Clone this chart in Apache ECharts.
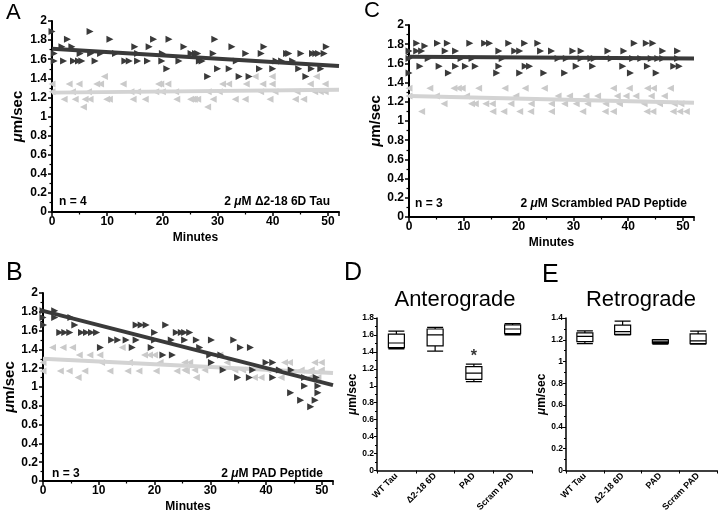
<!DOCTYPE html>
<html><head><meta charset="utf-8">
<script src="https://cdn.jsdelivr.net/npm/echarts@6.0.0/dist/echarts.min.js"></script>
<style>html,body{margin:0;padding:0;background:#fff}#c{width:720px;height:514px}</style>
</head><body><div id="c"></div>
<script>
// ---------- DATA ----------
const minutesTicks = [0, 10, 20, 30, 40, 50];
// Panel A: 2 uM Δ2-18 6D Tau (n = 4)
const A_antero = [[0,1.89],[0.4,1.66],[0.4,1.58],[1.8,1.73],[2.1,1.58],[2.8,1.81],[3.6,1.73],[3.9,1.58],[4.8,1.58],[5.1,1.66],[5.4,1.58],[6.9,1.89],[7.0,1.66],[7.8,1.58],[8.8,1.66],[10.5,1.81],[11.5,1.66],[13.2,1.58],[14.0,1.58],[15.0,1.73],[15.5,1.66],[15.5,1.58],[17.3,1.58],[17.6,1.73],[18.4,1.81],[19.9,1.58],[20.0,1.66],[20.8,1.50],[21.2,1.81],[23.0,1.58],[23.9,1.73],[25.2,1.66],[26.0,1.66],[26.4,1.66],[26.7,1.58],[27.2,1.58],[28.2,1.42],[29.2,1.66],[29.5,1.81],[30.0,1.50],[32.1,1.50],[32.6,1.73],[33.4,1.58],[33.9,1.42],[35.1,1.66],[35.7,1.42],[37.6,1.50],[37.9,1.66],[38.4,1.73],[40.0,1.50],[40.6,1.58],[41.6,1.58],[42.5,1.66],[42.9,1.66],[43.6,1.58],[44.7,1.50],[45.1,1.66],[46.0,1.42],[47.0,1.50],[47.2,1.66],[47.8,1.66],[48.3,1.66],[48.7,1.50],[49.3,1.66],[49.7,1.73]];
const A_retro = [[0,1.34],[0,1.26],[2.2,1.18],[3.1,1.34],[3.7,1.26],[4.2,1.18],[4.9,1.34],[5.7,1.10],[6.0,1.18],[6.6,1.26],[6.9,1.18],[8.1,1.34],[8.8,1.34],[9.5,1.42],[9.9,1.18],[10.4,1.18],[12.9,1.34],[14.3,1.26],[14.7,1.18],[15.5,1.26],[16.9,1.18],[18.8,1.26],[19.3,1.34],[19.7,1.34],[20.0,1.26],[21.0,1.34],[22.4,1.26],[22.6,1.18],[25.1,1.18],[25.5,1.18],[25.8,1.18],[26.4,1.18],[28.2,1.10],[28.3,1.26],[29.2,1.18],[30.3,1.26],[30.9,1.34],[32.0,1.34],[33.2,1.18],[35.0,1.18],[35.2,1.34],[36.8,1.42],[37.8,1.26],[38.2,1.34],[39.5,1.18],[39.9,1.34],[39.9,1.42],[40.4,1.26],[44.1,1.18],[44.4,1.26],[45.6,1.18],[46.8,1.34],[47.6,1.26],[47.9,1.42],[48.6,1.26],[49.5,1.34],[49.5,1.26]];
const A_anteroFit = [[0,1.71],[52,1.53]];
const A_retroFit = [[0,1.25],[52,1.28]];

// Panel B: 2 uM PAD Peptide (n = 3)
const B_antero = [[0,1.81],[0,1.74],[0.1,1.66],[2.1,1.81],[2.1,1.74],[3.0,1.58],[3.9,1.58],[4.8,1.58],[5.0,1.74],[5.7,1.66],[6.9,1.58],[7.8,1.58],[8.7,1.58],[9.6,1.58],[10.3,1.42],[12.3,1.50],[13.4,1.50],[14.9,1.50],[16.0,1.42],[16.7,1.66],[16.7,1.50],[17.6,1.66],[18.5,1.66],[19.4,1.42],[20.0,1.58],[20.0,1.50],[21.5,1.34],[22.0,1.66],[23.0,1.50],[23.2,1.34],[23.9,1.58],[24.8,1.58],[25.4,1.58],[25.4,1.50],[26.3,1.58],[27.5,1.50],[28.1,1.42],[29.9,1.34],[30.2,1.50],[30.2,1.26],[31.9,1.34],[32.3,1.18],[34.2,1.50],[34.9,1.10],[35.4,1.42],[37.0,1.10],[37.2,1.42],[37.6,1.18],[40.0,1.26],[41.2,1.26],[41.2,1.10],[42.4,1.18],[44.4,0.94],[44.5,1.18],[46.2,0.86],[46.9,1.10],[46.9,1.01],[48.0,0.79],[48.8,0.86],[49.0,1.10],[49.3,1.01],[49.3,0.94]];
const B_retro = [[0,1.26],[0,1.17],[1.7,1.42],[3.1,1.17],[3.6,1.42],[4.7,1.17],[5.3,1.42],[6.3,1.10],[6.5,1.34],[7.5,1.17],[8.4,1.34],[10.2,1.34],[10.5,1.26],[12.0,1.17],[14.2,1.42],[15.2,1.17],[15.5,1.26],[17.2,1.17],[18.2,1.34],[19.1,1.34],[20.0,1.34],[20.3,1.17],[21.0,1.26],[24.0,1.17],[25.4,1.26],[25.4,1.18],[25.7,1.17],[26.3,1.26],[27.2,1.18],[27.5,1.10],[29.0,1.18],[31.7,1.34],[33.0,1.26],[34.4,1.18],[35.8,1.18],[37.9,1.10],[39.1,1.10],[40.3,1.18],[41.5,1.18],[42.7,1.10],[43.3,1.26],[44.2,1.26],[46.3,1.18],[47.8,1.10],[48.1,1.18],[48.7,1.26],[49.3,1.10],[49.9,1.26],[49.9,1.18]];
const B_anteroFit = [[0,1.81],[52,1.02]];
const B_retroFit = [[0,1.30],[52,1.15]];

// Panel C: 2 uM Scrambled PAD Peptide (n = 3)
const C_antero = [[0,1.73],[0,1.65],[0,1.50],[1.4,1.81],[1.4,1.73],[2.0,1.57],[2.3,1.73],[2.9,1.78],[3.5,1.65],[5.2,1.81],[5.5,1.57],[6.6,1.73],[7.0,1.81],[7.2,1.50],[8.5,1.73],[8.5,1.57],[9.5,1.65],[10.3,1.57],[11.1,1.81],[11.5,1.65],[12.1,1.57],[13.8,1.81],[14.7,1.81],[16.0,1.50],[16.4,1.73],[16.4,1.57],[17.0,1.65],[18.2,1.81],[19.3,1.73],[20.2,1.73],[20.2,1.50],[21.1,1.81],[21.2,1.57],[22.0,1.57],[23.5,1.81],[24.0,1.73],[24.6,1.50],[26.0,1.73],[27.2,1.65],[28.4,1.50],[28.7,1.65],[29.9,1.73],[30.5,1.57],[31.4,1.73],[31.4,1.65],[33.2,1.65],[33.5,1.57],[33.8,1.65],[36.3,1.73],[36.9,1.65],[39.0,1.57],[39.2,1.73],[40.4,1.50],[40.8,1.65],[41.1,1.81],[42.3,1.65],[43.3,1.81],[43.5,1.57],[44.2,1.65],[44.5,1.81],[45.1,1.50],[45.4,1.65],[46.3,1.73],[46.3,1.65],[48.3,1.57],[49.0,1.73],[49.0,1.65],[49.3,1.57]];
const C_retro = [[0,1.34],[0,1.26],[2.3,1.10],[3.8,1.34],[5.0,1.26],[6.4,1.18],[8.2,1.34],[9.0,1.34],[9.7,1.34],[10.5,1.26],[11.4,1.18],[12.1,1.18],[12.7,1.34],[14.0,1.18],[15.2,1.18],[15.3,1.10],[17.3,1.10],[17.5,1.34],[18.6,1.18],[19.5,1.26],[20.2,1.10],[21.2,1.34],[22.2,1.10],[22.3,1.18],[24.7,1.34],[26.0,1.18],[26.0,1.10],[27.2,1.26],[28.4,1.18],[29.3,1.26],[30.5,1.18],[31.7,1.10],[32.3,1.26],[32.6,1.18],[34.4,1.26],[35.8,1.10],[35.9,1.18],[37.3,1.34],[37.3,1.10],[38.0,1.26],[38.4,1.18],[39.6,1.26],[40.2,1.34],[41.4,1.26],[42.9,1.18],[43.4,1.10],[43.5,1.34],[44.2,1.26],[44.5,1.10],[44.6,1.34],[45.7,1.18],[46.6,1.26],[47.7,1.34],[48.2,1.10],[48.4,1.18],[49.4,1.10],[49.6,1.18],[50.6,1.10]];
const C_anteroFit = [[0,1.67],[52,1.65]];
const C_retroFit = [[0,1.26],[52,1.19]];

// Panels D / E: box plots  [min, Q1, median, Q3, max]
const boxCategories = ['WT Tau', 'Δ2-18 6D', 'PAD', 'Scram PAD'];
const D_antero = [[1.435,1.45,1.505,1.61,1.645],[1.41,1.47,1.60,1.67,1.69],[1.05,1.075,1.15,1.225,1.255],[1.60,1.615,1.67,1.72,1.735]];
const D_star = [['PAD', 1.34]];
const E_retro = [[1.165,1.183,1.232,1.263,1.281],[1.245,1.25,1.275,1.335,1.372],[1.16,1.17,1.18,1.2,1.202],[1.16,1.165,1.19,1.255,1.28]];

// ---------- STYLE ----------
const FONT = '"Liberation Sans", Arial, Helvetica, sans-serif';
const DARK = '#3a3a3a', LIGHT = '#cacaca', LIGHTLINE = '#d3d3d3';

function scatterX(gi) {
  return {
    type: 'value', gridIndex: gi, min: 0, max: 52, interval: 10,
    name: 'Minutes', nameLocation: 'middle', nameGap: 20,
    nameTextStyle: {fontFamily: FONT, fontWeight: 'bold', fontSize: 12, color: '#000'},
    axisLine: {show: true, onZero: false, lineStyle: {color: '#000', width: 2}},
    axisTick: {show: true, length: 4, lineStyle: {color: '#000', width: 1.5}},
    minorTick: {show: true, splitNumber: 2, length: 2.5, lineStyle: {color: '#000', width: 1.2}},
    axisLabel: {fontFamily: FONT, fontWeight: 'bold', fontSize: 12, color: '#000', margin: 4, showMaxLabel: false},
    splitLine: {show: false}
  };
}
function scatterY(gi, gap) {
  return {
    type: 'value', gridIndex: gi, min: 0, max: 2, interval: 0.2,
    name: '{i|μ}m/sec', nameLocation: 'middle', nameGap: gap,
    nameTextStyle: {fontFamily: FONT, fontWeight: 'bold', fontSize: 15, color: '#000',
      rich: {i: {fontFamily: FONT, fontWeight: 'bold', fontStyle: 'italic', fontSize: 15, color: '#000'}}},
    axisLine: {show: true, onZero: false, lineStyle: {color: '#000', width: 2}},
    axisTick: {show: true, length: 4, lineStyle: {color: '#000', width: 1.5}},
    minorTick: {show: true, splitNumber: 2, length: 2.5, lineStyle: {color: '#000', width: 1.2}},
    axisLabel: {fontFamily: FONT, fontWeight: 'bold', fontSize: 12, color: '#000', margin: 5},
    splitLine: {show: false}
  };
}
function boxX(gi) {
  return {
    type: 'category', gridIndex: gi, data: boxCategories,
    axisLine: {show: true, lineStyle: {color: '#000', width: 1.5}},
    axisTick: {show: true, length: 3, lineStyle: {color: '#000', width: 1}},
    axisLabel: {fontFamily: FONT, fontWeight: 'bold', fontSize: 9, color: '#000', rotate: 45, interval: 0, margin: 4},
    splitLine: {show: false}
  };
}
function boxY(gi, max) {
  return {
    type: 'value', gridIndex: gi, min: 0, max: max, interval: 0.2,
    name: '{i|μ}m/sec', nameLocation: 'middle', nameGap: 16,
    nameTextStyle: {fontFamily: FONT, fontWeight: 'bold', fontSize: 12, color: '#000',
      rich: {i: {fontFamily: FONT, fontWeight: 'bold', fontStyle: 'italic', fontSize: 12, color: '#000'}}},
    axisLine: {show: true, onZero: false, lineStyle: {color: '#000', width: 1.5}},
    axisTick: {show: true, length: 3, lineStyle: {color: '#000', width: 1}},
    minorTick: {show: true, splitNumber: 2, length: 2, lineStyle: {color: '#000', width: 1}},
    axisLabel: {fontFamily: FONT, fontWeight: 'bold', fontSize: 8.5, color: '#000', margin: 3},
    splitLine: {show: false}
  };
}
function pts(gi, data, dark) {
  return {type: 'scatter', xAxisIndex: gi, yAxisIndex: gi, data: data, silent: true,
    symbol: 'triangle', symbolSize: [7, 7], symbolRotate: dark ? -90 : 90,
    itemStyle: {color: dark ? DARK : LIGHT, opacity: 1}, z: dark ? 4 : 2};
}
function fit(gi, data, dark) {
  return {type: 'line', xAxisIndex: gi, yAxisIndex: gi, data: data, silent: true,
    symbol: 'none', lineStyle: {color: dark ? DARK : LIGHTLINE, width: 4}, z: dark ? 5 : 3};
}
function boxes(gi, data) {
  return {type: 'boxplot', xAxisIndex: gi, yAxisIndex: gi, data: data, silent: true,
    boxWidth: [16, 16], itemStyle: {color: '#fff', borderColor: '#000', borderWidth: 1.2}, z: 3};
}
function txt(x, y, text, size, weight, align, rich) {
  return {type: 'text', x: x, y: y, silent: true,
    style: {text: text, fill: '#000', font: (weight || 'normal') + ' ' + size + 'px ' + FONT,
      align: align || 'left', verticalAlign: 'middle', rich: rich}};
}
const richMu = {
  b: {fontFamily: FONT, fontWeight: 'bold', fontSize: 12, fill: '#000'},
  i: {fontFamily: FONT, fontWeight: 'bold', fontStyle: 'italic', fontSize: 12, fill: '#000'}
};

const option = {
  animation: false,
  backgroundColor: '#fff',
  grid: [
    {left: 52, top: 21, width: 287, height: 191},
    {left: 43, top: 293, width: 290, height: 192},
    {left: 409, top: 25, width: 285, height: 192},
    {left: 377, top: 318, width: 155, height: 153},
    {left: 566, top: 318, width: 151, height: 153}
  ],
  xAxis: [scatterX(0), scatterX(1), scatterX(2), boxX(3), boxX(4)],
  yAxis: [scatterY(0, 27), scatterY(1, 25), scatterY(2, 26), boxY(3, 1.8), boxY(4, 1.4)],
  series: [
    pts(0, A_retro, false), fit(0, A_retroFit, false), pts(0, A_antero, true), fit(0, A_anteroFit, true),
    pts(1, B_retro, false), fit(1, B_retroFit, false), pts(1, B_antero, true), fit(1, B_anteroFit, true),
    pts(2, C_retro, false), fit(2, C_retroFit, false), pts(2, C_antero, true), fit(2, C_anteroFit, true),
    boxes(3, D_antero), boxes(4, E_retro),
    {type: 'scatter', xAxisIndex: 3, yAxisIndex: 3, data: D_star, silent: true, symbolSize: 1,
      itemStyle: {color: 'rgba(0,0,0,0)'},
      label: {show: true, position: 'inside', formatter: '*', fontSize: 16, fontWeight: 'bold', color: '#000', fontFamily: FONT}}
  ],
  graphic: [
    txt(6, 13, 'A', 22), txt(364, 11, 'C', 22), txt(6, 273, 'B', 25), txt(344, 273, 'D', 25), txt(542, 275, 'E', 25),
    txt(455, 300, 'Anterograde', 22), txt(641, 300, 'Retrograde', 22),
    txt(59, 202, 'n = 4', 12, 'bold'), txt(415, 204, 'n = 3', 12, 'bold'), txt(52, 474, 'n = 3', 12, 'bold'),
    txt(330, 202, '{b|2 }{i|μ}{b|M Δ2-18 6D Tau}', 12, 'bold', 'right', richMu),
    txt(687, 204, '{b|2 }{i|μ}{b|M Scrambled PAD Peptide}', 12, 'bold', 'right', richMu),
    txt(323, 474, '{b|2 }{i|μ}{b|M PAD Peptide}', 12, 'bold', 'right', richMu)
  ]
};
option.graphic[5].style.align = 'center';
option.graphic[6].style.align = 'center';
const chart = echarts.init(document.getElementById('c'), null, {renderer: 'canvas'});
chart.setOption(option);
</script></body></html>
